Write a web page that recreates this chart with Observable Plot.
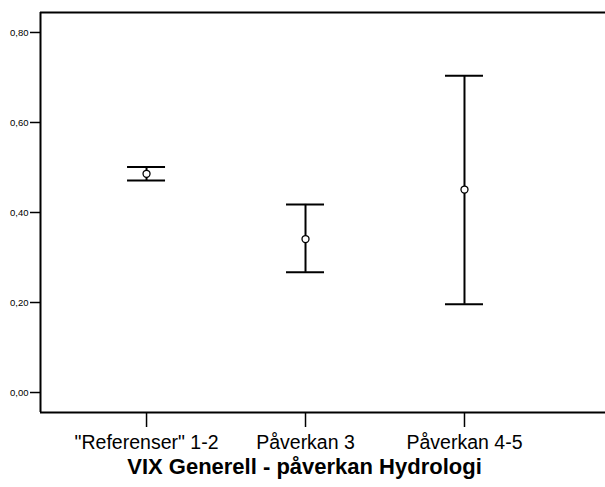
<!DOCTYPE html>
<html>
<head>
<meta charset="utf-8">
<script src="https://cdn.jsdelivr.net/npm/d3@7"></script>
<script src="https://cdn.jsdelivr.net/npm/@observablehq/plot@0.6"></script>
<style>
  html, body { margin: 0; padding: 0; background: #fff; overflow: hidden; }
  #chart { width: 605px; height: 487px; }
  #chart svg { max-width: none !important; }
</style>
</head>
<body>
<div id="chart"></div>
<script>
const categories = ["\"Referenser\" 1-2", "Påverkan 3", "Påverkan 4-5"];
const positions = [0, 1, 2];
const means = [0.486, 0.341, 0.451];
const lower = [0.471, 0.267, 0.196];
const upper = [0.501, 0.418, 0.704];
const yTicks = [0, 0.2, 0.4, 0.6, 0.8];
const yDomain = [-0.0444, 0.8444];
const xDomain = [-0.667, 2.887];
const title = "VIX Generell - påverkan Hydrologi";

const data = categories.map((c, i) => ({pos: positions[i], mean: means[i], lo: lower[i], hi: upper[i]}));
const font = "'Liberation Sans', Arial, Helvetica, sans-serif";

const chart = Plot.plot({
  width: 605,
  height: 487,
  marginLeft: 40,
  marginRight: 0,
  marginTop: 12,
  marginBottom: 75,
  style: {fontFamily: font, background: "#fff", color: "#000", maxWidth: "none"},
  x: {domain: xDomain, label: null},
  y: {domain: yDomain, label: null},
  marks: [
    Plot.ruleY(yDomain, {stroke: "#000", strokeWidth: 2}),
    Plot.ruleX([xDomain[0]], {stroke: "#000", strokeWidth: 2}),
    Plot.axisY({ticks: yTicks, tickFormat: d => d.toFixed(2).replace(".", ","), tickSize: 10, tickPadding: 2, fontSize: 9.5, strokeWidth: 1.5, label: null}),
    Plot.axisX({ticks: positions, tickFormat: i => categories[i], tickSize: 15, tickPadding: 8, fontSize: 19.5, strokeWidth: 1.5, label: null}),
    Plot.ruleX(data, {x: "pos", y1: "lo", y2: "hi", stroke: "#000", strokeWidth: 2}),
    Plot.ruleY(data, {x1: "pos", x2: "pos", y: "lo", stroke: "#000", strokeWidth: 2, insetLeft: -19, insetRight: -19}),
    Plot.ruleY(data, {x1: "pos", x2: "pos", y: "hi", stroke: "#000", strokeWidth: 2, insetLeft: -19, insetRight: -19}),
    Plot.dot(data, {x: "pos", y: "mean", r: 3.5, stroke: "#000", strokeWidth: 1.3, fill: "#fff"}),
    Plot.text([title], {text: d => d, frameAnchor: "bottom", dy: 61, dx: -18.5, fontSize: 22, fontWeight: "bold", fill: "#000"})
  ]
});
document.getElementById("chart").appendChild(chart);
</script>
</body>
</html>
